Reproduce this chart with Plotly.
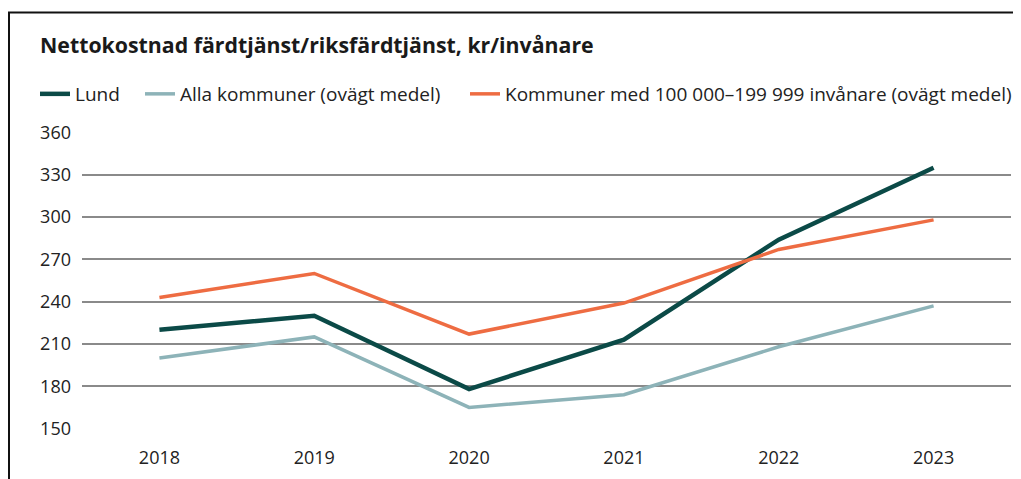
import plotly.graph_objects as go

years = ["2018", "2019", "2020", "2021", "2022", "2023"]
lund = [220, 230, 178, 213, 284, 335]
alla = [200, 215, 165, 174, 208, 237]
kommuner = [243, 260, 217, 239, 277, 298]

names = ["Lund", "Alla kommuner (ovägt medel)", "Kommuner med 100 000–199 999 invånare (ovägt medel)"]
colors = ["#0b4a47", "#8db3b8", "#ee6c42"]
widths = [4.5, 3.5, 3.5]
series = [lund, alla, kommuner]

FONT = "Open Sans"
W, H = 1013, 471  # page body has an 8px margin

legend_ids = ["legend", "legend2", "legend3"]
legend_x = [27, 132, 457]

fig = go.Figure()
for lid, n, s, c, w in zip(legend_ids, names, series, colors, widths):
    fig.add_trace(go.Scatter(x=years, y=s, name=n, mode="lines", legend=lid,
                             line=dict(color=c, width=w)))

layout_legends = {}
for lid, lx in zip(legend_ids, legend_x):
    layout_legends[lid] = dict(orientation="h", x=lx / W, xanchor="left", xref="container",
                               y=1 - 86 / H, yref="container", yanchor="middle",
                               font=dict(family=FONT, size=19, color="#222222"),
                               itemwidth=30, bgcolor="rgba(0,0,0,0)")

fig.update_layout(
    width=W, height=H,
    margin=dict(l=74, r=10, t=124, b=50),
    paper_bgcolor="white", plot_bgcolor="white",
    font=dict(family=FONT, size=18, color="#222222"),
    title=dict(text="<b>Nettokostnad färdtjänst/riksfärdtjänst, kr/invånare</b>",
               x=32/W, xanchor="left", xref="container", y=1-38/H, yanchor="middle",
               yref="container",
               font=dict(family=FONT, size=21.3, color="#1a1a1a")),
    showlegend=True,
    xaxis=dict(type="category", range=[-0.5, 5.5], showgrid=False, showline=False,
               ticks="", tickfont=dict(family=FONT, size=18), fixedrange=True,
               automargin=False, ticklabelstandoff=16),
    yaxis=dict(range=[149.7, 360.3], dtick=30, tick0=150, showgrid=True, gridcolor="#8a8a8a",
               gridwidth=1.5, zeroline=False, showline=False, ticks="",
               tickfont=dict(family=FONT, size=18), ticklabelstandoff=10, automargin=False),
    shapes=[dict(type="rect", xref="paper", yref="paper", layer="above",
                 x0=-(74 - 1) / 929, x1=(1030 - 82) / 929, y0=-0.5, y1=1 + (124 - 4.5) / 297,
                 line=dict(color="#111111", width=2), fillcolor="rgba(0,0,0,0)")],
    **layout_legends,
)

fig.write_html("out.html")
